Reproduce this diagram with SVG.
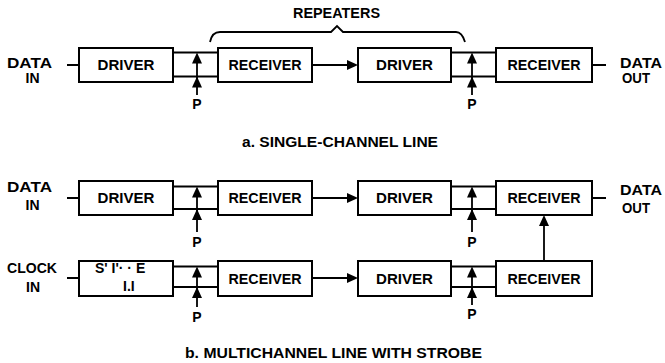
<svg xmlns="http://www.w3.org/2000/svg" xmlns:xlink="http://www.w3.org/1999/xlink" width="665" height="363" viewBox="0 0 665 363">
<style>
.box{fill:#fff;stroke:#000;stroke-width:2}
.ln{fill:none;stroke:#000;stroke-width:1.8}
.t{font-family:"Liberation Sans",Arial,sans-serif;font-weight:bold;font-size:14px;fill:#000}
.c{text-anchor:middle}
</style>
<defs>
<path id="up" d="M0,0 L-5,11 L5,11 Z" fill="#000"/>
<path id="rt" d="M0,0 L-11,-5 L-11,5 Z" fill="#000"/>
</defs>
<rect width="665" height="363" fill="#fff"/>

<!-- labels -->
<text class="t c" x="29.5" y="68" textLength="45" lengthAdjust="spacingAndGlyphs">DATA</text>
<text class="t c" x="32.5" y="83">IN</text>
<text class="t c" x="641" y="68" textLength="42" lengthAdjust="spacingAndGlyphs">DATA</text>
<text class="t c" x="636" y="83" textLength="28" lengthAdjust="spacingAndGlyphs">OUT</text>
<text class="t c" x="336.5" y="18" textLength="87" lengthAdjust="spacingAndGlyphs">REPEATERS</text>
<text class="t" x="242" y="147" font-size="13" textLength="196" lengthAdjust="spacingAndGlyphs">a.  SINGLE-CHANNEL LINE</text>

<text class="t c" x="29.5" y="192" textLength="45" lengthAdjust="spacingAndGlyphs">DATA</text>
<text class="t c" x="32.5" y="210">IN</text>
<text class="t c" x="32" y="273" textLength="50" lengthAdjust="spacingAndGlyphs">CLOCK</text>
<text class="t c" x="33" y="292">IN</text>
<text class="t c" x="641" y="195" textLength="42" lengthAdjust="spacingAndGlyphs">DATA</text>
<text class="t c" x="636" y="213" textLength="28" lengthAdjust="spacingAndGlyphs">OUT</text>
<text class="t" x="185" y="358" font-size="13" textLength="297" lengthAdjust="spacingAndGlyphs">b.  MULTICHANNEL LINE WITH STROBE</text>

<!-- connectors -->
<g id="connectors">
<!-- a: top row -->
<path class="ln" d="M67,65 H79 M173,52.5 H218 M173,76.5 H218 M312,65 H352 M451,52.5 H496 M451,76.5 H496 M592,65 H606"/>
<path class="ln" d="M197,95 V58 M472,95 V58"/>
<use xlink:href="#rt" x="358" y="65"/>
<use xlink:href="#up" x="197" y="52.5"/>
<use xlink:href="#up" x="197" y="76.5"/>
<use xlink:href="#up" x="472" y="52.5"/>
<use xlink:href="#up" x="472" y="76.5"/>
<text class="t c" x="197" y="109" font-size="13">P</text>
<text class="t c" x="472" y="109" font-size="13">P</text>
<path d="M210,42 Q212,32 220,32 L331,32 L337,26 L343,32 L456,32 Q462,32 465,42" class="ln"/>

<!-- b: data row -->
<path class="ln" d="M67,198 H79 M173,186.5 H218 M173,209 H218 M312,198 H352 M451,186.5 H496 M451,209 H496 M592,198 H606"/>
<path class="ln" d="M197,232 V192 M472,232 V192"/>
<use xlink:href="#rt" x="358" y="198"/>
<use xlink:href="#up" x="197" y="186.5"/>
<use xlink:href="#up" x="197" y="209"/>
<use xlink:href="#up" x="472" y="186.5"/>
<use xlink:href="#up" x="472" y="209"/>
<text class="t c" x="197" y="247" font-size="13">P</text>
<text class="t c" x="472" y="247" font-size="13">P</text>

<!-- b: clock row -->
<path class="ln" d="M67,278 H79 M173,266.5 H218 M173,287 H218 M312,278 H352 M451,266.5 H496 M451,287 H496"/>
<path class="ln" d="M197,307 V272 M472,305 V272"/>
<use xlink:href="#rt" x="358" y="278"/>
<use xlink:href="#up" x="197" y="266.5"/>
<use xlink:href="#up" x="197" y="287"/>
<use xlink:href="#up" x="472" y="266.5"/>
<use xlink:href="#up" x="472" y="287"/>
<text class="t c" x="197" y="322" font-size="13">P</text>
<text class="t c" x="472" y="319" font-size="13">P</text>
<path class="ln" d="M544,261 V225"/>
<use xlink:href="#up" x="544" y="215"/>
</g>

<!-- nodes: a -->
<g id="a-driver1"><rect class="box" x="79" y="48" width="94" height="34"/><text class="t c" x="126" y="70" textLength="57" lengthAdjust="spacingAndGlyphs">DRIVER</text></g>
<g id="a-receiver1"><rect class="box" x="218" y="48" width="94" height="34"/><text class="t c" x="265" y="70" textLength="73" lengthAdjust="spacingAndGlyphs">RECEIVER</text></g>
<g id="a-driver2"><rect class="box" x="358" y="48" width="93" height="34"/><text class="t c" x="404.5" y="70" textLength="57" lengthAdjust="spacingAndGlyphs">DRIVER</text></g>
<g id="a-receiver2"><rect class="box" x="496" y="48" width="96" height="34"/><text class="t c" x="544" y="70" textLength="73" lengthAdjust="spacingAndGlyphs">RECEIVER</text></g>

<!-- nodes: b data -->
<g id="b-driver1"><rect class="box" x="79" y="181" width="94" height="34"/><text class="t c" x="126" y="203" textLength="57" lengthAdjust="spacingAndGlyphs">DRIVER</text></g>
<g id="b-receiver1"><rect class="box" x="218" y="181" width="94" height="34"/><text class="t c" x="265" y="203" textLength="73" lengthAdjust="spacingAndGlyphs">RECEIVER</text></g>
<g id="b-driver2"><rect class="box" x="358" y="181" width="93" height="34"/><text class="t c" x="404.5" y="203" textLength="57" lengthAdjust="spacingAndGlyphs">DRIVER</text></g>
<g id="b-receiver2"><rect class="box" x="496" y="181" width="96" height="34"/><text class="t c" x="544" y="203" textLength="73" lengthAdjust="spacingAndGlyphs">RECEIVER</text></g>

<!-- nodes: b clock -->
<g id="b-strobe"><rect class="box" x="79" y="261" width="94" height="35"/><text class="t" x="95" y="273">S' I'· · E</text><text class="t" x="123" y="291">I.I</text></g>
<g id="b-receiver3"><rect class="box" x="218" y="261" width="94" height="35"/><text class="t c" x="265" y="284" textLength="73" lengthAdjust="spacingAndGlyphs">RECEIVER</text></g>
<g id="b-driver3"><rect class="box" x="358" y="261" width="93" height="35"/><text class="t c" x="404.5" y="284" textLength="57" lengthAdjust="spacingAndGlyphs">DRIVER</text></g>
<g id="b-receiver4"><rect class="box" x="496" y="261" width="96" height="35"/><text class="t c" x="544" y="284" textLength="73" lengthAdjust="spacingAndGlyphs">RECEIVER</text></g>
</svg>
